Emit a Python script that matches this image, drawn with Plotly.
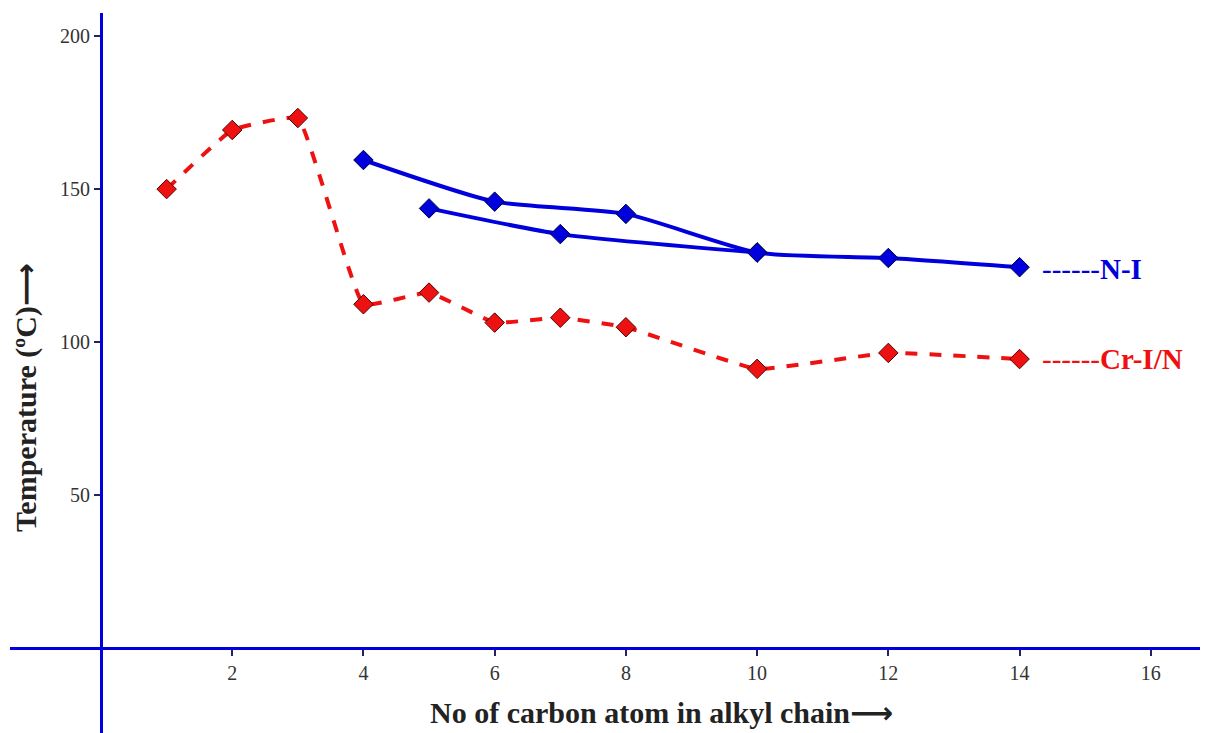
import plotly.graph_objects as go

# Data
red_x = [1, 2, 3, 4, 5, 6, 7, 8, 10, 12, 14]
red_y = [150.0, 169.3, 173.2, 112.4, 116.2, 106.4, 108.0, 104.9, 91.3, 96.5, 94.5]

blue_even_x = [4, 6, 8, 10, 12, 14]
blue_even_y = [159.5, 145.9, 141.9, 129.3, 127.5, 124.5]

blue_odd_x = [5, 7, 10]
blue_odd_y = [143.7, 135.3, 129.3]

x_ticks = [2, 4, 6, 8, 10, 12, 14, 16]
y_ticks = [50, 100, 150, 200]

BLUE = "#0000dd"
RED = "#ee1111"
SERIF = "Liberation Serif, Times New Roman, serif"
ARROW = "<span style='font-family:DejaVu Sans'>⟶</span>"

X_RANGE = [-1.387, 16.75]
Y_RANGE = [-27.6, 207.5]

fig = go.Figure()

fig.add_trace(go.Scatter(
    x=red_x, y=red_y, mode="lines+markers",
    line=dict(color=RED, width=4, dash="dash", shape="spline", smoothing=0.3),
    marker=dict(symbol="diamond", size=15, color=RED, line=dict(color="#550000", width=1)),
    showlegend=False))

fig.add_trace(go.Scatter(
    x=blue_even_x, y=blue_even_y, mode="lines+markers",
    line=dict(color=BLUE, width=4, shape="spline", smoothing=0.6),
    marker=dict(symbol="diamond", size=15, color=BLUE, line=dict(color="#000044", width=1)),
    showlegend=False))

fig.add_trace(go.Scatter(
    x=blue_odd_x, y=blue_odd_y, mode="lines+markers",
    line=dict(color=BLUE, width=4, shape="spline", smoothing=0.6),
    marker=dict(symbol="diamond", size=15, color=BLUE, line=dict(color="#000044", width=1)),
    showlegend=False))

x_pos = (0 - X_RANGE[0]) / (X_RANGE[1] - X_RANGE[0])
y_pos = (0 - Y_RANGE[0]) / (Y_RANGE[1] - Y_RANGE[0])

fig.update_xaxes(range=X_RANGE, tickvals=x_ticks, ticktext=[str(v) for v in x_ticks],
                 showgrid=False, zeroline=False, showline=True, linecolor=BLUE, linewidth=3,
                 ticks="outside", ticklen=6, tickwidth=1.5, tickcolor="#222266",
                 anchor="free", position=y_pos,
                 tickfont=dict(family=SERIF, size=20, color="#333333"))
fig.update_yaxes(range=Y_RANGE, tickvals=y_ticks, ticktext=[str(v) for v in y_ticks],
                 showgrid=False, zeroline=False, showline=True, linecolor=BLUE, linewidth=3,
                 ticks="outside", ticklen=6, tickwidth=1.5, tickcolor="#222266",
                 anchor="free", position=x_pos,
                 tickfont=dict(family=SERIF, size=20, color="#333333"))

fig.add_annotation(x=14.31, y=123.9, xref="x", yref="y", xanchor="left", yanchor="middle",
                   text="------<b>N-I</b>", showarrow=False,
                   font=dict(family=SERIF, size=29, color=BLUE))
fig.add_annotation(x=14.31, y=94.5, xref="x", yref="y", xanchor="left", yanchor="middle",
                   text="------<b>Cr-I/N</b>", showarrow=False,
                   font=dict(family=SERIF, size=29, color=RED))

fig.add_annotation(x=-1.16, y=(648.5 - 397) / 3.063, xref="x", yref="y", xanchor="center", yanchor="middle",
                   text="<b>Temperature (ºC)" + ARROW + "</b>", textangle=-90, showarrow=False,
                   font=dict(family=SERIF, size=30, color="#222222"))
fig.add_annotation(x=(661 - 101) / 65.6, y=(648.5 - 713) / 3.063, xref="x", yref="y",
                   xanchor="center", yanchor="middle",
                   text="<b>No of carbon atom in alkyl chain" + ARROW + "</b>", showarrow=False,
                   font=dict(family=SERIF, size=30, color="#222222"))

# page body has an 8px default margin: shift figure accordingly
fig.update_layout(width=1201, height=725, margin=dict(l=2, r=9, t=5, b=0),
                  plot_bgcolor="white", paper_bgcolor="white")

fig.write_html("out.html")
